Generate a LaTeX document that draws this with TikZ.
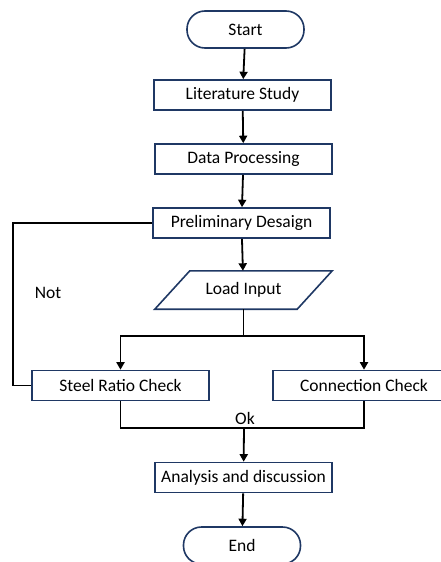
\documentclass[tikz,border=0pt]{standalone}
\usepackage{fontspec}
\setmainfont{Carlito}
\usetikzlibrary{arrows.meta}
\definecolor{boxblue}{RGB}{31,56,100}
\tikzset{
	every node/.style={font=\fontsize{17.5}{20}\selectfont},
	procbox/.style={draw=boxblue, line width=1.6pt, minimum width=177pt, minimum height=30pt, inner sep=0pt},
	termbox/.style={draw=boxblue, line width=1.6pt, rounded corners=18pt, minimum width=117pt, minimum height=37pt, inner sep=0pt},
	iobox/.style={minimum width=142pt, minimum height=38pt, inner sep=0pt},
	link/.style={line width=1.8pt},
	flow/.style={line width=1.8pt, -{Triangle[length=7.5pt,width=8pt]}}
}

\begin{document}
\begin{tikzpicture}[x=1pt, y=-1pt]
		\useasboundingbox (0,0) rectangle (441,562);
		\node(start)[termbox, anchor=center] at (245.5, 29.5) {Start};
		\node(lit)[procbox, anchor=center] at (242.5, 95) {Literature Study};
		\node(data)[procbox, anchor=center] at (243.5, 159) {Data Processing};
		\node(prelim)[procbox, anchor=center] at (241.5, 223) {Preliminary Desaign};
		\node(load)[iobox, anchor=center] at (243.5, 290) {Load Input};
		\draw[boxblue, line width=1.6pt] ([xshift=-17.5pt]load.south west) -- ([xshift=17.5pt]load.north west)
			-- ([xshift=17.5pt]load.north east) -- ([xshift=-17.5pt]load.south east) -- cycle;
		%%%%%%%
		\node(steel)[procbox, anchor=center] at (120.5, 385.5) {Steel Ratio Check};
		\node(conn)[procbox, minimum width=182pt, anchor=center] at (364, 385.5) {Connection Check};
		\node(anal)[procbox, anchor=center] at (243.5, 477.5) {Analysis and discussion};
		\node(end)[termbox, anchor=center] at (242, 545.5) {End};
		%%%%%%%
		\node(not)[anchor=center] at (48, 293) {Not};
		\node(ok)[anchor=center] at (245, 418) {Ok};
		\coordinate(back) at (13, 223);
		\coordinate(fork) at (243.5, 336);
		\coordinate(merge) at (244, 428);
		%%%%%%%
		\draw[flow] (start) -- (lit);
		\draw[flow] (lit) -- (data);
		\draw[flow] (data) -- (prelim);
		\draw[flow] (prelim) -- (load);
		\draw[link] (load.south) -- (fork);
		\draw[flow] (fork) -| (steel.north);
		\draw[flow] (fork) -| (conn.north);
		\draw[link] (prelim.west) -- (back) |- (steel.west);
		\draw[link] (steel.south) |- (merge) -| (conn.south);
		\draw[flow] (merge) -- (anal);
		\draw[flow] (anal) -- (end);
\end{tikzpicture}
\end{document}
